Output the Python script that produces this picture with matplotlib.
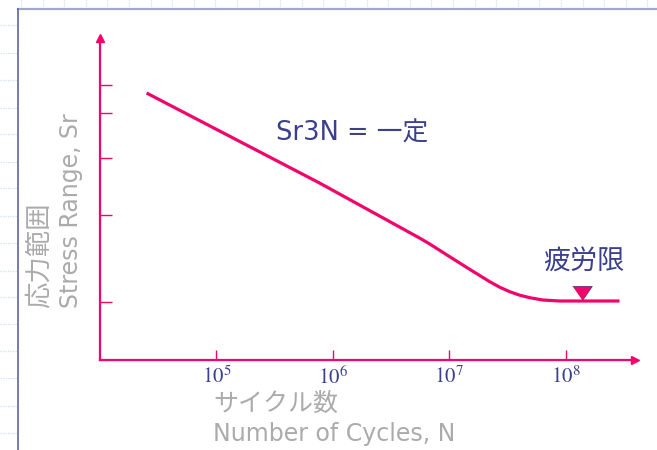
import numpy as np
import matplotlib
matplotlib.use("Agg")
import matplotlib.pyplot as plt

plt.rcParams['font.family'] = ['DejaVu Sans', 'Noto Sans CJK JP']
plt.rcParams['mathtext.fontset'] = 'stix'

# S-N curve (number of cycles, stress range in arbitrary units)
log_cycles = [4.40, 5.886, 6.745, 6.833, 7.004, 7.176, 7.348, 7.434, 7.520,
              7.606, 7.692, 7.803, 7.949, 8.463]
stress = [267, 177, 122, 116, 103.3, 90.7, 78.3, 72.8, 68.3, 64.8, 62.3,
          60, 59, 59]
cycles = [10**v for v in log_cycles]

fatigue_limit_N = 10**8.137
fatigue_limit_S = 59

x_ticks = [1e5, 1e6, 1e7, 1e8]
x_tick_labels = ['$10^{5}$', '$10^{6}$', '$10^{7}$', '$10^{8}$']
y_ticks = [58, 145, 202, 247, 275]

PINK = '#f0066a'
NAVY = '#3b3f8c'
GRAY = '#ababab'

W, H = 657, 450
fig = plt.figure(figsize=(W / 100, H / 100), dpi=100)

# slide frame decoration (pixel coordinates)
deco = fig.add_axes([0, 0, 1, 1])
deco.set_xlim(0, W)
deco.set_ylim(H, 0)
deco.axis('off')
for yy in [25, 53, 80, 108, 134, 162, 188, 216, 243, 271, 297, 324, 351, 378, 406, 433]:
    deco.plot([0, 17], [yy, yy], color='#d3dcf4', lw=0.9, ls=(0, (1, 1)))
for xx in np.arange(21, W, 21.6):
    deco.plot([xx, xx], [0, 8], color='#d3dcf4', lw=0.9, ls=(0, (1, 1)))
deco.plot([18, W], [9, 9], color='#a3a7c9', lw=1.6)
deco.plot([18, 18], [9, H], color='#5f64a8', lw=1.2)

# main chart axes
x0, x1, y0, y1 = 100, 635, 360, 38
ax = fig.add_axes([x0 / W, (H - y0) / H, (x1 - x0) / W, (y0 - y1) / H])
ax.set_xscale('log')
ax.set_xlim(1e4, 10**(4 + (x1 - x0) / 116.4))
ax.set_ylim(0, y0 - y1)
ax.patch.set_alpha(0)
for s in ['top', 'right']:
    ax.spines[s].set_visible(False)
for s in ['left', 'bottom']:
    ax.spines[s].set_color(PINK)
    ax.spines[s].set_linewidth(1.6)

ax.set_xticks(x_ticks)
ax.set_xticklabels(x_tick_labels)
ax.xaxis.set_minor_locator(matplotlib.ticker.NullLocator())
ax.set_yticks(y_ticks)
ax.set_yticklabels([])
ax.tick_params(axis='x', direction='in', length=7, width=1.0, color=PINK,
               labelsize=15, labelcolor=NAVY, pad=4)
ax.tick_params(axis='y', direction='in', length=8.5, width=1.0, color=PINK)

# axis arrowheads
ax.plot(1, 0, marker='>', transform=ax.transAxes, color=PINK, ms=6, clip_on=False)
ax.plot(0, 1, marker='^', transform=ax.transAxes, color=PINK, ms=6, clip_on=False)

ax.plot(cycles, stress, color=PINK, lw=2.3, solid_capstyle='butt',
        solid_joinstyle='round')

tri = [(-1, 0.72), (1, 0.72), (0, -0.72)]
ax.plot([fatigue_limit_N], [fatigue_limit_S + 8], marker=tri, ms=14,
        color=PINK, mec='#6b2f78', mew=0.6, ls='none')

ax.text(fatigue_limit_N * 1.05, fatigue_limit_S + 39, '疲労限', color=NAVY,
        fontsize=19.5, ha='center', va='center')
fig.text(352 / W, 1 - 134 / H, 'Sr3N = 一定', color=NAVY, fontsize=18.5,
         ha='center', va='center')

# axis titles
fig.text(40 / W, 1 - 308 / H, '応力範囲', color=GRAY, fontsize=19,
         rotation=90, ha='center', va='bottom')
fig.text(71 / W, 1 - 308 / H, 'Stress Range, Sr', color=GRAY, fontsize=17,
         rotation=90, ha='center', va='bottom')
fig.text(213 / W, 1 - 404 / H, 'サイクル数', color=GRAY, fontsize=18,
         ha='left', va='center')
fig.text(213 / W, 1 - 434 / H, 'Number of Cycles, N', color=GRAY, fontsize=17,
         ha='left', va='center')

fig.savefig('out.png', dpi=100)
